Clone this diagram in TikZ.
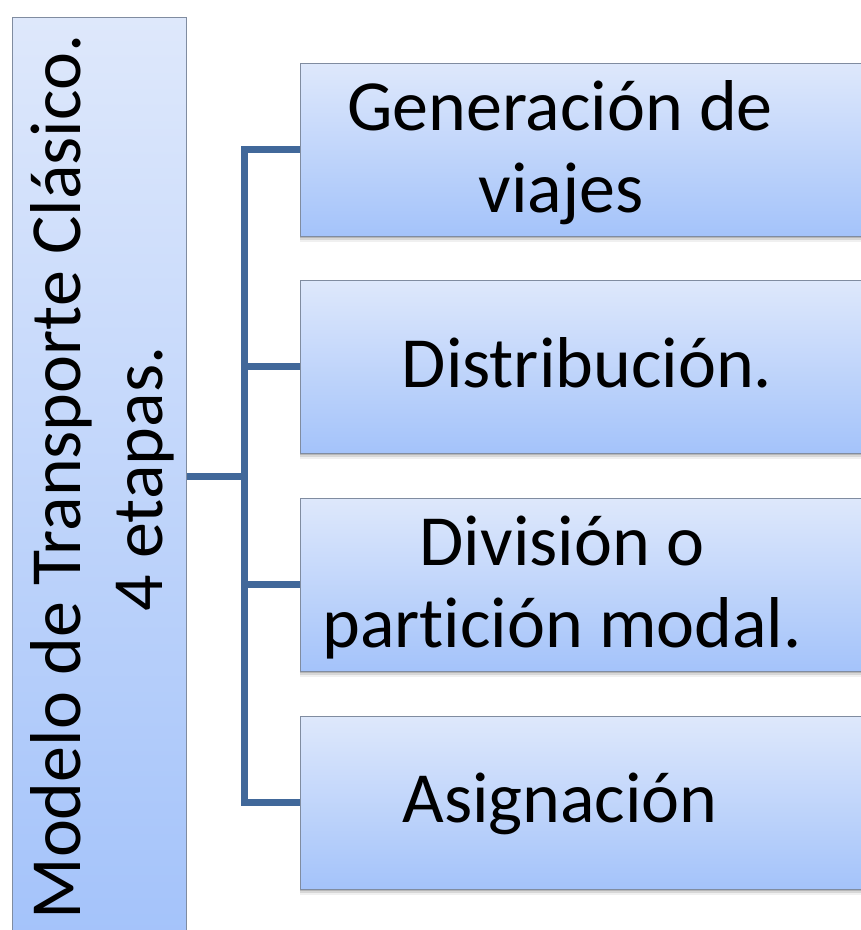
\documentclass[tikz,border=0pt]{standalone}
\usepackage{fontspec}
\setmainfont{Carlito}[RawFeature={-liga;-clig;-dlig}]
\usetikzlibrary{shadows}
\definecolor{boxtop}{RGB}{222,232,251}
\definecolor{boxbot}{RGB}{164,195,250}
\definecolor{boxedge}{RGB}{128,140,160}
\definecolor{connc}{RGB}{65,104,154}
\tikzset{
  softshadow/.style={
    drop shadow={shadow xshift=0pt, shadow yshift=-6pt, opacity=0.06, fill=black},
    drop shadow={shadow xshift=0pt, shadow yshift=-4pt, opacity=0.10, fill=black},
    drop shadow={shadow xshift=0pt, shadow yshift=-2pt, opacity=0.15, fill=black}},
  stage/.style={rectangle, draw=boxedge, line width=1pt, top color=boxtop, bottom color=boxbot,
    minimum width=574pt, minimum height=173pt, inner sep=0pt, softshadow},
  mainbox/.style={rectangle, draw=boxedge, line width=1pt, top color=boxtop, bottom color=boxbot,
    minimum width=174pt, minimum height=920pt, inner sep=0pt},
  lbl/.style={anchor=base, inner sep=0pt, font=\fontsize{72pt}{82pt}\selectfont, text=black},
  conn/.style={draw=connc, line width=7pt, line join=miter}
}
\begin{document}
\begin{tikzpicture}[x=1pt,y=-1pt]
\useasboundingbox (0,0) rectangle (861,930);
\clip (0,0) rectangle (861,930);
\fill[white] (0,0) rectangle (861,930);
% main box
\node[mainbox] (L) at (99,477) {};
% connectors geometry
\coordinate (spine) at (244,476);
% stage box centres
\path (587,149.5) coordinate (c1) (587,366.5) coordinate (c2)
      (587,584.5) coordinate (c3) (587,802.5) coordinate (c4);
% connectors
\draw[conn] (L.east |- spine) -- (spine);
\draw[conn] (300,149.5) coordinate (w1) -- (w1 -| spine) -- (300,802.5 -| spine) -- (300,802.5) coordinate (w4);
\draw[conn] (300,366.5) coordinate (w2) -- (w2 -| spine);
\draw[conn] (300,584.5) coordinate (w3) -- (w3 -| spine);
% boxes
\node[stage] (b1) at (c1) {};
\node[stage] (b2) at (c2) {};
\node[stage] (b3) at (c3) {};
\node[stage] (b4) at (c4) {};
% texts
\node[lbl, rotate=90] (m1) at (80,477) {Modelo de Transporte Clásico.};
\node[lbl, rotate=90] (m2) at (162,479) {4 etapas.};
\node[lbl] (t1a) at (560,130) {Generación de};
\node[lbl] (t1b) at (561,212) {viajes};
\node[lbl] (t2) at (587,387) {Distribución.};
\node[lbl] (t3a) at (562,565) {División o};
\node[lbl] (t3b) at (562,647) {partición modal.};
\node[lbl] (t4) at (560,822) {Asignación};
\end{tikzpicture}
\end{document}
